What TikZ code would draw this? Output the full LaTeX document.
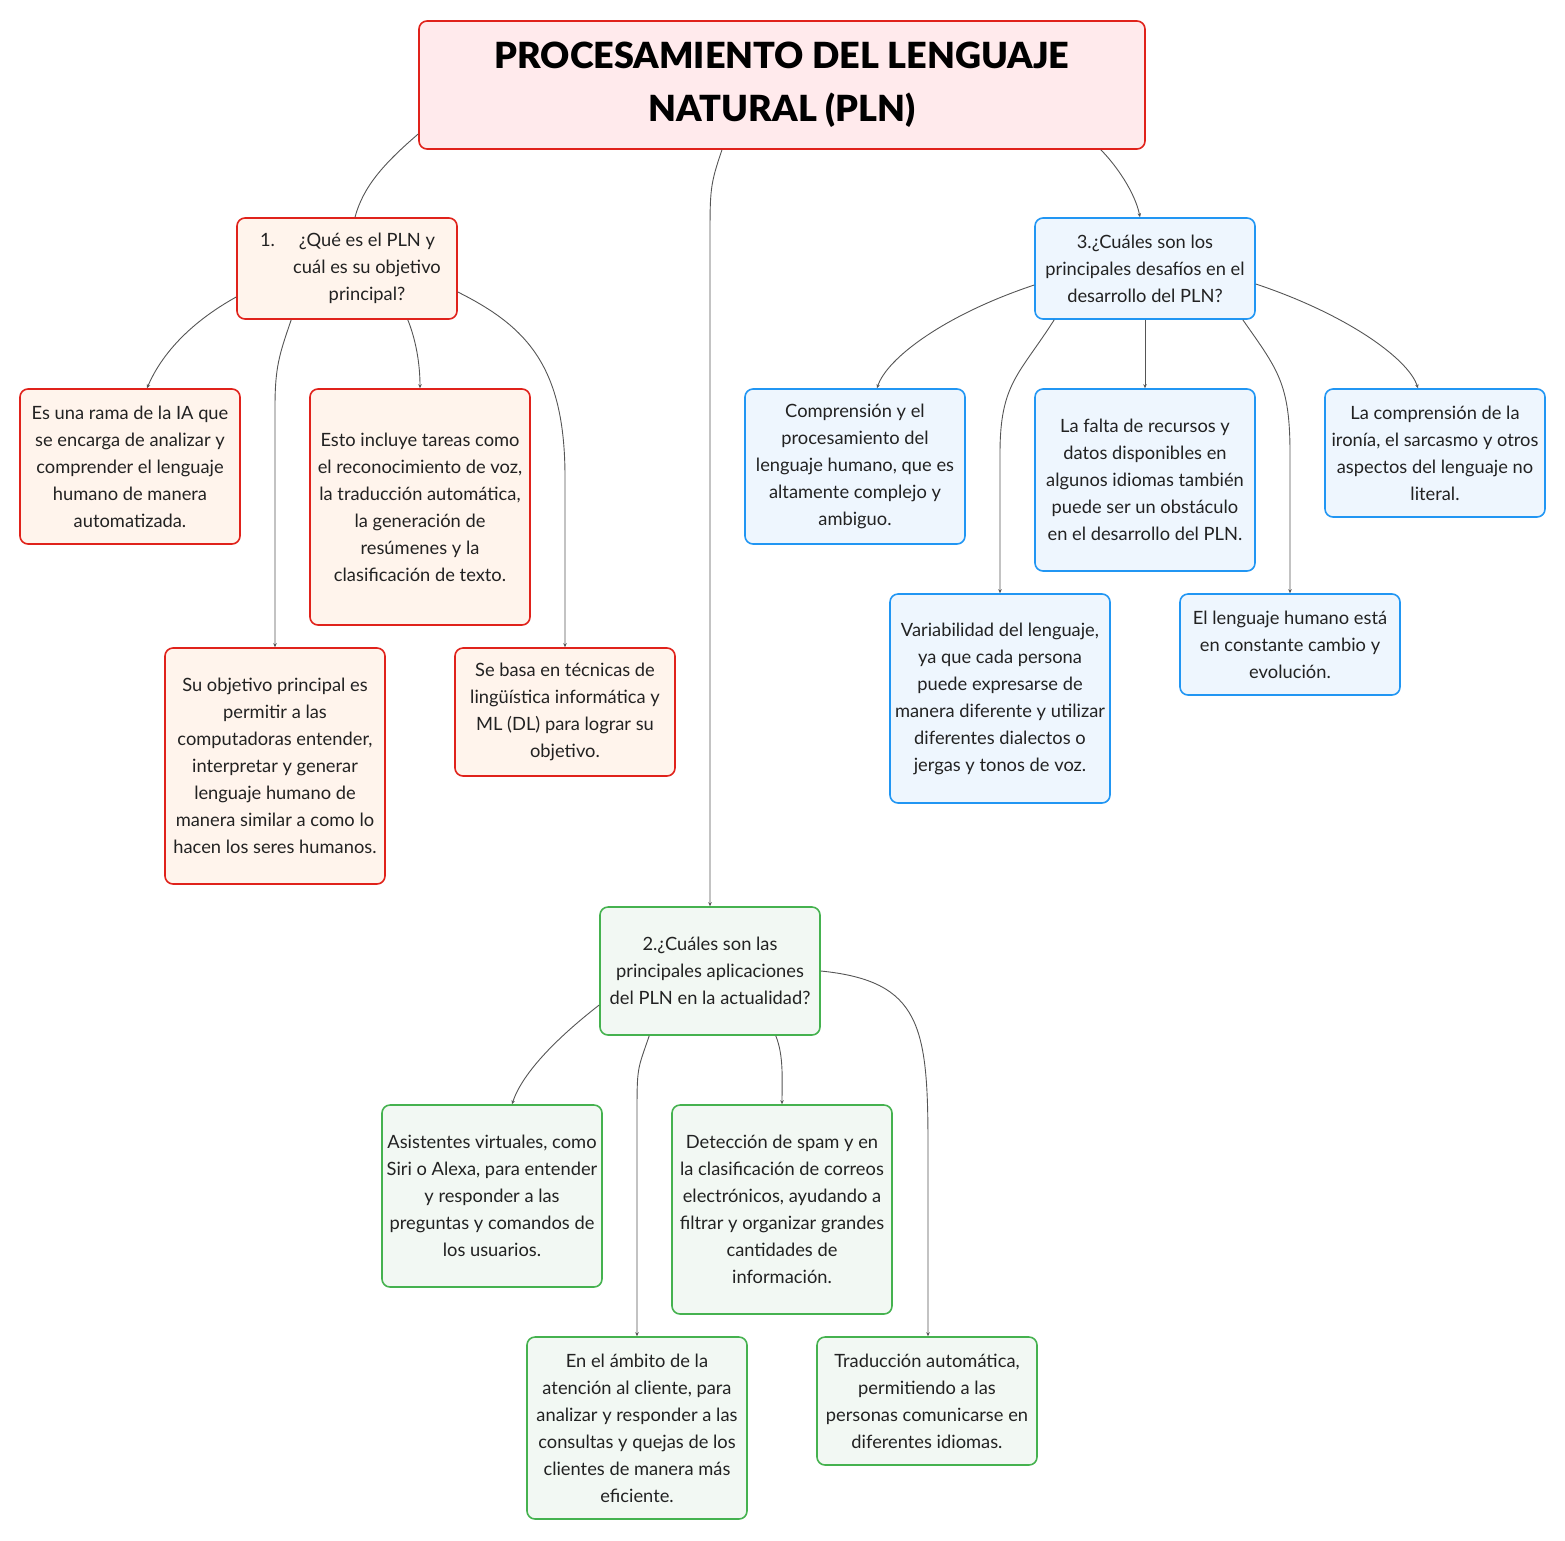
\documentclass[tikz,border=0pt]{standalone}
\usepackage{fontspec}
\setmainfont{Lato}
\newfontfamily\titlefont{Lato Black}
\usetikzlibrary{calc,arrows.meta}
\definecolor{redb}{HTML}{E0221B}
\definecolor{rootfill}{HTML}{FFEAEC}
\definecolor{redfill}{HTML}{FFF4EC}
\definecolor{blueb}{HTML}{2196F3}
\definecolor{bluefill}{HTML}{EEF6FE}
\definecolor{greenb}{HTML}{45B24F}
\definecolor{greenfill}{HTML}{F2F8F3}
\definecolor{txt}{HTML}{222222}
\definecolor{lineg}{HTML}{555555}
\begin{document}
\begin{tikzpicture}[x=1pt,y=-1pt,
  box/.style={draw, line width=1.6pt, rounded corners=8pt, minimum width=220pt, align=center, inner sep=0pt, text=txt, font=\fontsize{18.3}{27}\selectfont},
  redbox/.style={box, draw=redb, fill=redfill},
  bluebox/.style={box, draw=blueb, fill=bluefill},
  greenbox/.style={box, draw=greenb, fill=greenfill},
  conn/.style={draw=lineg, line width=0.9pt, -{Stealth[length=4pt,width=3.5pt]}},
  connplain/.style={draw=lineg, line width=0.9pt}
]
\useasboundingbox (0,0) rectangle (1565,1540);

\node[box, draw=redb, fill=rootfill, minimum width=726pt, minimum height=128pt, font=\fontsize{36}{53}\titlefont, text=black] (root) at (782,85) {PROCESAMIENTO DEL LENGUAJE\\NATURAL (PLN)};

\node[redbox, minimum height=101pt] (n1) at (347,268.5) {\hspace*{40pt}\makebox[0pt][r]{1.\hspace{24pt}}¿Qué es el PLN y\\\hspace*{40pt}cuál es su objetivo\\\hspace*{40pt}principal?};
\node[bluebox, minimum height=101pt] (n3) at (1145,268.5) {3.¿Cuáles son los\\principales desafíos en el\\desarrollo del PLN?};
\node[greenbox, minimum height=128pt] (n2) at (710,971) {2.¿Cuáles son las\\principales aplicaciones\\del PLN en la actualidad?};

\node[redbox, minimum height=155pt] (a) at (130,466.5) {Es una rama de la IA que\\se encarga de analizar y\\comprender el lenguaje\\humano de manera\\automatizada.};
\node[redbox, minimum height=236pt] (b) at (420,507) {Esto incluye tareas como\\el reconocimiento de voz,\\la traducción automática,\\la generación de\\resúmenes y la\\clasificación de texto.};
\node[redbox, minimum height=236pt] (c) at (275,766) {Su objetivo principal es\\permitir a las\\computadoras entender,\\interpretar y generar\\lenguaje humano de\\manera similar a como lo\\hacen los seres humanos.};
\node[redbox, minimum height=128pt] (d) at (565,712) {Se basa en técnicas de\\lingüística informática y\\ML (DL) para lograr su\\objetivo.};

\node[bluebox, minimum height=155pt] (e) at (855,466.5) {Comprensión y el\\procesamiento del\\lenguaje humano, que es\\altamente complejo y\\ambiguo.};
\node[bluebox, minimum height=182pt] (f) at (1145,480) {La falta de recursos y\\datos disponibles en\\algunos idiomas también\\puede ser un obstáculo\\en el desarrollo del PLN.};
\node[bluebox, minimum height=128pt] (g) at (1435,453) {La comprensión de la\\ironía, el sarcasmo y otros\\aspectos del lenguaje no\\literal.};
\node[bluebox, minimum height=209pt] (h) at (1000,698.5) {Variabilidad del lenguaje,\\ya que cada persona\\puede expresarse de\\manera diferente y utilizar\\diferentes dialectos o\\jergas y tonos de voz.};
\node[bluebox, minimum height=101pt] (i) at (1290,644.5) {El lenguaje humano está\\en constante cambio y\\evolución.};

\node[greenbox, minimum height=182pt] (j) at (492,1196) {Asistentes virtuales, como\\Siri o Alexa, para entender\\y responder a las\\preguntas y comandos de\\los usuarios.};
\node[greenbox, minimum height=209pt] (k) at (782,1209.5) {Detección de spam y en\\la clasificación de correos\\electrónicos, ayudando a\\filtrar y organizar grandes\\cantidades de\\información.};
\node[greenbox, minimum height=182pt] (l) at (637,1428) {En el ámbito de la\\atención al cliente, para\\analizar y responder a las\\consultas y quejas de los\\clientes de manera más\\eficiente.};
\node[greenbox, minimum height=128pt] (m) at (927,1401) {Traducción automática,\\permitiendo a las\\personas comunicarse en\\diferentes idiomas.};

% root connectors
\draw[connplain] ($(root.west)+(0,49)$) .. controls +(-35,30) and +(8,-30) .. ($(n1.north)+(8,0)$);
\draw[conn] ($(root.south)+(-60,0)$) .. controls +(-12,35) and +(0,-50) .. ($(root.south)+(-72,90)$) -- (n2.north);
\draw[conn] ($(root.south east)+(-45,0)$) .. controls +(15,15) and +(-5,-25) .. ($(n3.north)+(-5,0)$);

% n1 connectors
\draw[conn] ($(n1.west)+(0,28.5)$) .. controls +(-45,25) and +(15,-35) .. ($(a.north)+(17,0)$);
\draw[conn] ($(n1.south west)+(55,0)$) .. controls +(-12,35) and +(0,-40) .. ($(c.north)+(0,-240)$) -- (c.north);
\draw[conn] ($(n1.south east)+(-50,0)$) .. controls +(8,20) and +(0,-25) .. (b.north);
\draw[conn] ($(n1.east)+(0,23.5)$) .. controls +(70,35) and +(0,-110) .. ($(d.north)+(0,-170)$) -- (d.north);

% n3 connectors
\draw[conn] ($(n3.west)+(0,16.5)$) .. controls +(-90,30) and +(10,-30) .. ($(e.north)+(22,0)$);
\draw[conn] ($(n3.south west)+(20,0)$) .. controls +(-35,55) and +(0,-70) .. ($(h.north)+(0,-140)$) -- (h.north);
\draw[conn] (n3.south) -- (f.north);
\draw[conn] ($(n3.south east)+(-13,0)$) .. controls +(35,50) and +(0,-70) .. ($(i.north)+(0,-140)$) -- (i.north);
\draw[conn] ($(n3.east)+(0,15.5)$) .. controls +(90,30) and +(-10,-30) .. ($(g.north)+(-17,0)$);

% n2 connectors
\draw[conn] ($(n2.west)+(0,34)$) .. controls +(-45,35) and +(10,-30) .. ($(j.north)+(20,0)$);
\draw[conn] ($(n2.south west)+(50,0)$) .. controls +(-12,35) and +(0,-50) .. ($(l.north)+(0,-220)$) -- (l.north);
\draw[conn] ($(n2.south east)+(-45,0)$) .. controls +(8,20) and +(0,-25) .. (k.north);
\draw[conn] (n2.east) .. controls +(100,10) and +(0,-120) .. ($(m.north)+(1,-190)$) -- ($(m.north)+(1,0)$);
\end{tikzpicture}
\end{document}
